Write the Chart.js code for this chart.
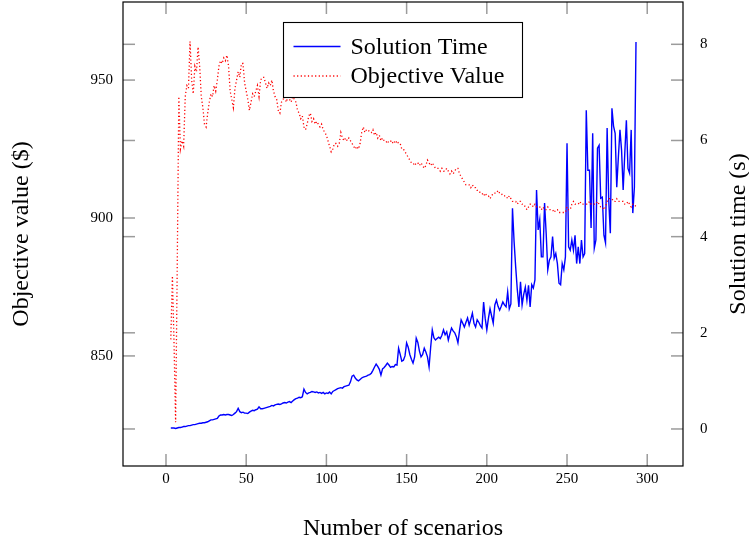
<!DOCTYPE html>
<html><head><meta charset="utf-8">
<script src="https://cdn.jsdelivr.net/npm/chart.js@4"></script>
<style>html,body{margin:0;padding:0;background:#fff}#wrap{width:749px;height:545px}</style>
</head><body><div id="wrap"><canvas id="c" width="749" height="545"></canvas></div>
<script>
// ---- data ----
const firstScenario = 3;   // scenarios run from 3 to 293, one per step
const solutionTime = [
0.02,0.02,0.02,0.01,0.02,0.03,0.03,0.04,0.05,0.05,
0.06,0.07,0.07,0.08,0.09,0.09,0.10,0.11,0.12,0.12,
0.13,0.13,0.14,0.15,0.17,0.19,0.19,0.20,0.21,0.22,
0.27,0.29,0.29,0.30,0.29,0.30,0.30,0.29,0.28,0.30,
0.33,0.36,0.43,0.36,0.34,0.35,0.33,0.33,0.32,0.35,
0.37,0.39,0.38,0.40,0.41,0.46,0.42,0.42,0.43,0.44,
0.45,0.46,0.47,0.49,0.48,0.50,0.51,0.52,0.51,0.52,
0.54,0.55,0.54,0.56,0.57,0.55,0.58,0.61,0.63,0.64,
0.66,0.65,0.67,0.83,0.76,0.73,0.75,0.76,0.78,0.77,
0.76,0.77,0.75,0.76,0.74,0.76,0.73,0.75,0.74,0.77,
0.73,0.78,0.80,0.82,0.84,0.85,0.86,0.85,0.88,0.89,
0.90,0.91,0.98,1.10,1.12,1.06,1.02,1.00,1.03,1.06,
1.08,1.09,1.10,1.12,1.13,1.16,1.22,1.29,1.35,1.30,
1.24,1.12,1.25,1.28,1.32,1.37,1.33,1.28,1.30,1.29,
1.34,1.33,1.68,1.55,1.41,1.43,1.52,1.79,1.70,1.55,
1.45,1.37,1.50,1.89,1.80,1.62,1.50,1.55,1.68,1.60,
1.50,1.29,1.70,2.06,1.90,1.85,1.88,1.91,1.88,1.95,
2.06,1.96,2.02,1.85,1.98,2.10,2.04,2.00,1.92,1.79,
2.05,2.27,2.20,2.12,2.22,2.31,2.16,2.28,2.41,2.20,
2.12,2.27,2.22,2.15,2.10,2.64,2.30,2.06,2.30,2.50,
2.35,2.20,2.58,2.68,2.55,2.47,2.55,2.64,2.58,2.54,
2.85,2.50,2.60,4.59,3.90,3.37,2.90,2.54,3.06,2.58,
2.80,2.95,2.68,2.99,2.54,3.00,2.93,3.10,4.97,4.14,
4.35,3.58,3.58,4.70,4.07,3.31,3.51,3.58,4.00,3.55,
3.65,3.44,3.03,3.00,3.44,3.31,3.58,5.94,3.79,3.72,
3.93,3.72,4.03,3.44,3.79,3.44,3.93,3.58,3.65,6.63,
5.38,5.38,4.18,6.15,3.76,3.93,5.84,5.90,4.80,4.82,
4.03,3.87,6.26,4.76,4.07,6.67,6.30,6.15,5.03,5.65,
6.22,5.80,4.97,5.73,6.42,5.42,5.32,6.22,4.49,5.03,
8.05];
const objectiveValue = [
856,879,855,826,882,944,925,928,926,944,
948,947,964,950,945,955,953,962,955,944,
940,934,933,938,942,945,944,948,946,950,
955,957,956,958,957,959,955,946,943,940,
947,950,953,951,956,956,949,946,943,939,
942,945,944,946,948,944,950,951,951,949,
947,949,948,950,946,944,943,939,938,942,
943,944,942,944,943,942,944,943,942,939,
938,936,937,933,932,934,937,938,935,936,
934,935,934,933,934,932,931,930,928,926,
924,925,927,927,926,927,931,929,928,929,
928,929,928,927,926,925,926,925,927,931,
933,931,932,932,931,931,932,930,931,929,
930,928,929,928,928,927,928,928,927,928,
927,928,927,927,925,925,924,923,922,921,
920,920,919,920,920,919,920,919,918,919,
921,920,919,920,919,918,918,918,917,918,
917,917,918,917,916,917,916,917,918,918,
916,915,914,913,912,912,912,911,912,911,
911,910,910,909,909,908,909,908,908,907,
908,909,909,909,910,909,909,908,908,908,
907,908,907,906,906,906,905,906,906,905,
905,904,903,904,905,905,904,905,904,904,
904,903,904,903,903,904,903,903,903,902,
903,903,902,902,902,902,902,904,903,903,
905,906,905,905,905,906,905,905,905,905,
905,906,905,905,905,905,906,905,904,904,
903,904,906,907,907,907,906,906,907,906,
906,906,906,905,905,906,905,904,905,905,
904];
const scenarios = solutionTime.map((_, i) => firstScenario + i);
const xTickValues = [0, 50, 100, 150, 200, 250, 300];
const objTickValues = [850, 900, 950];
const timeTickValues = [0, 2, 4, 6, 8];
const seriesNames = ['Solution Time', 'Objective Value'];
const axisTitles = { x: 'Number of scenarios', y: 'Objective value ($)', y1: 'Solution time (s)' };

// ---- style ----
const FONT = "'Liberation Serif', 'DejaVu Serif', serif";
const BLUE = '#0000ff', RED = '#ff0000';

const decor = {
  id: 'decor',
  afterDatasetsDraw(chart) {
    const { ctx, chartArea: a, scales } = chart;
    ctx.save();
    const L = 12;
    ctx.strokeStyle = '#9b9b9b';
    ctx.lineWidth = 1.5;
    const seg = (x1, y1, x2, y2) => { ctx.beginPath(); ctx.moveTo(x1, y1); ctx.lineTo(x2, y2); ctx.stroke(); };
    scales.x.ticks.forEach(t => {
      const p = scales.x.getPixelForValue(t.value);
      seg(p, a.bottom, p, a.bottom - L); seg(p, a.top, p, a.top + L);
    });
    [scales.y, scales.y1].forEach(s => s.ticks.forEach(t => {
      const p = s.getPixelForValue(t.value);
      seg(a.left, p, a.left + L, p); seg(a.right, p, a.right - L, p);
    }));
    ctx.strokeStyle = '#000';
    ctx.lineWidth = 1.2;
    ctx.strokeRect(a.left, a.top, a.right - a.left, a.bottom - a.top);

    // legend box
    const bx = 283.5, by = 22.5, bw = 239, bh = 75;
    ctx.fillStyle = '#fff';
    ctx.fillRect(bx, by, bw, bh);
    ctx.strokeStyle = '#000'; ctx.lineWidth = 1.1;
    ctx.strokeRect(bx, by, bw, bh);
    const rows = [46.5, 76];
    chart.data.datasets.forEach((ds, i) => {
      ctx.strokeStyle = ds.borderColor; ctx.lineWidth = ds.borderWidth;
      ctx.setLineDash(ds.borderDash || []);
      seg(bx + 10, rows[i], bx + 57, rows[i]);
      ctx.setLineDash([]);
      ctx.fillStyle = '#000';
      ctx.font = `24px ${FONT}`;
      ctx.textAlign = 'left'; ctx.textBaseline = 'middle';
      ctx.fillText(ds.label, bx + 67, rows[i] + 1);
    });

    // axis titles
    ctx.fillStyle = '#000';
    ctx.font = `24px ${FONT}`;
    ctx.textAlign = 'center'; ctx.textBaseline = 'middle';
    ctx.fillText(axisTitles.x, (a.left + a.right) / 2, 529);
    const cy = (a.top + a.bottom) / 2;
    ctx.save(); ctx.translate(22, cy); ctx.rotate(-Math.PI / 2); ctx.fillText(axisTitles.y, 0, 0); ctx.restore();
    ctx.save(); ctx.translate(739, cy); ctx.rotate(-Math.PI / 2); ctx.fillText(axisTitles.y1, 0, 0); ctx.restore();
    ctx.restore();
  }
};

const tickFont = { family: FONT, size: 15 };
const setTicks = vals => s => { s.ticks = vals.map(v => ({ value: v })); };
const noPad = (dim, size) => s => {
  s[dim] = size;
  s.paddingTop = 0; s.paddingBottom = 0; s.paddingLeft = 0; s.paddingRight = 0;
};
new Chart(document.getElementById('c'), {
  type: 'line',
  data: {
    datasets: [
      { label: seriesNames[0], data: scenarios.map((x, i) => ({ x, y: solutionTime[i] })), yAxisID: 'y1',
        borderColor: BLUE, borderWidth: 1.4, pointRadius: 0, tension: 0, fill: false, order: 1 },
      { label: seriesNames[1], data: scenarios.map((x, i) => ({ x, y: objectiveValue[i] })), yAxisID: 'y',
        borderColor: RED, borderWidth: 1.3, borderDash: [1.2, 2.4], pointRadius: 0, tension: 0, fill: false, order: 0 }
    ]
  },
  options: {
    responsive: false, animation: false, devicePixelRatio: 1,
    layout: { padding: { top: 2, left: 0, right: 0, bottom: 0 } },
    plugins: { legend: { display: false }, tooltip: { enabled: false } },
    scales: {
      x: { type: 'linear', position: 'bottom', min: -26.8, max: 322.3,
        afterBuildTicks: setTicks(xTickValues),
        ticks: { font: tickFont, color: '#000', padding: 4, maxRotation: 0, autoSkip: false },
        grid: { display: false, drawTicks: false }, border: { display: false },
        afterFit: noPad('height', 79) },
      y: { type: 'linear', position: 'left', min: 810.1, max: 978.3,
        afterBuildTicks: setTicks(objTickValues),
        ticks: { font: tickFont, color: '#000', padding: 10, autoSkip: false },
        grid: { display: false, drawTicks: false }, border: { display: false },
        afterFit: noPad('width', 123) },
      y1: { type: 'linear', position: 'right', min: -0.77, max: 8.88,
        afterBuildTicks: setTicks(timeTickValues),
        ticks: { font: tickFont, color: '#000', padding: 17, autoSkip: false },
        grid: { display: false, drawTicks: false }, border: { display: false },
        afterFit: noPad('width', 66) }
    }
  },
  plugins: [decor]
});
</script></body></html>
